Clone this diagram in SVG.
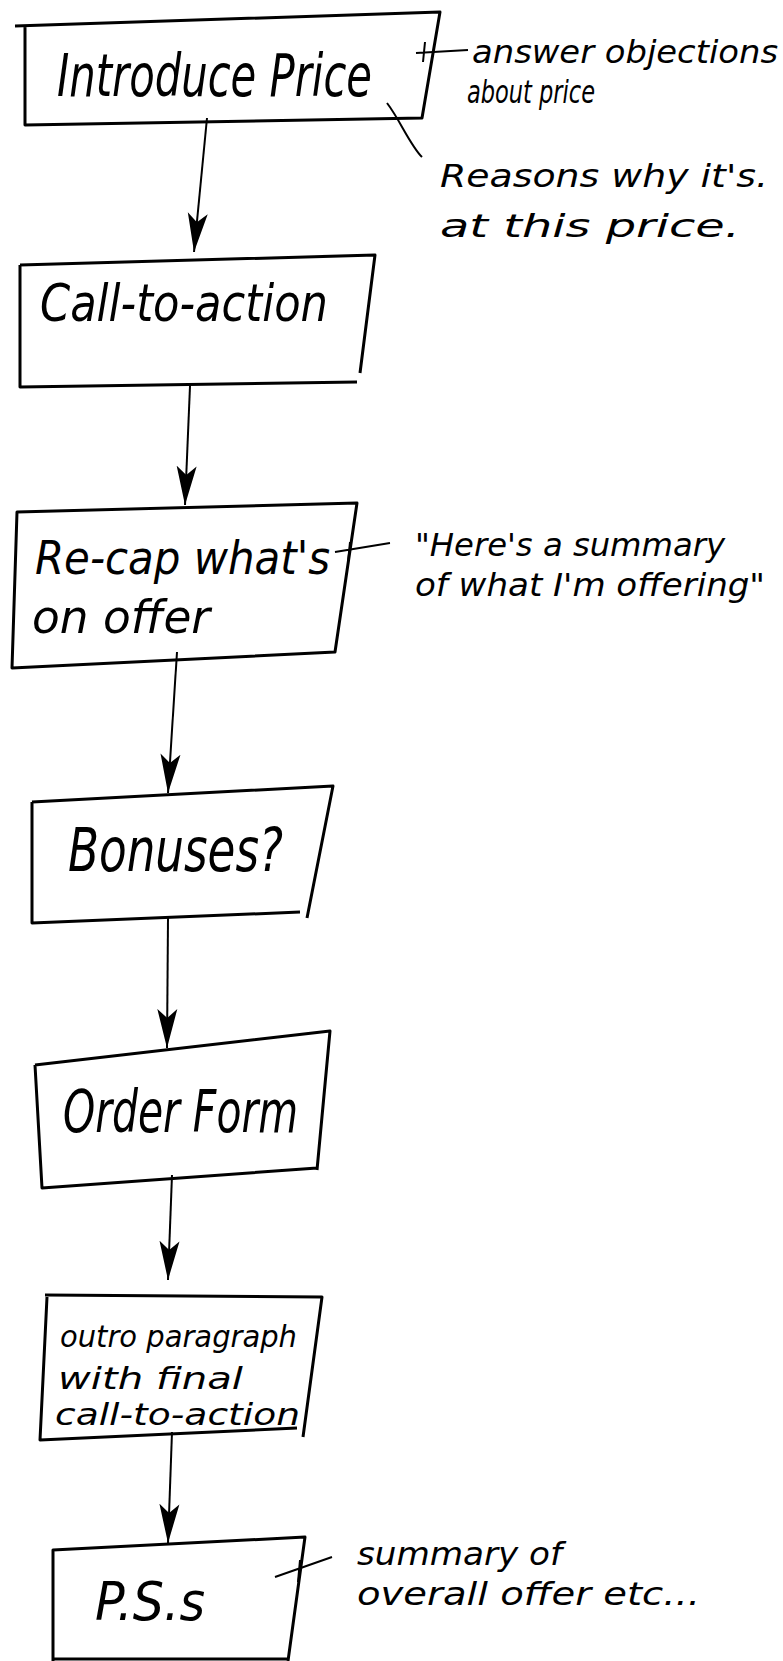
<svg xmlns="http://www.w3.org/2000/svg" width="783" height="1661" viewBox="0 0 783 1661">
<defs>
<style>
.box{fill:none;stroke:#000;stroke-width:3;stroke-linejoin:round}
.edge{fill:none;stroke:#000;stroke-width:2}
.lbl{font-family:"Liberation Sans Narrow","DejaVu Sans Condensed","Liberation Sans",sans-serif;font-style:italic;fill:#000}
.note{font-family:"Liberation Sans Narrow","DejaVu Sans Condensed","Liberation Sans",sans-serif;font-style:italic;fill:#000;font-size:32px}
</style>
<marker id="ah" viewBox="0 -11 40 22" refX="39" refY="0" markerWidth="40" markerHeight="22" markerUnits="userSpaceOnUse" orient="auto">
<path d="M0,-10 L39,0 L0,10 L9,0 Z" fill="#000"/>
</marker>
</defs>
<rect width="783" height="1661" fill="#fff"/>

<g id="connectors">
<path class="edge" d="M207,118 L194,252" marker-end="url(#ah)"/>
<path class="edge" d="M190,386 L185,505" marker-end="url(#ah)"/>
<path class="edge" d="M177,652 L168,793" marker-end="url(#ah)"/>
<path class="edge" d="M168,918 L167,1048" marker-end="url(#ah)"/>
<path class="edge" d="M172,1175 L168,1280" marker-end="url(#ah)"/>
<path class="edge" d="M172,1432 L168,1543" marker-end="url(#ah)"/>
<path class="edge" d="M416,53 L468,50 M425,42 L423,62"/>
<path class="edge" d="M387,103 C400,120 410,145 422,157"/>
<path class="edge" d="M335,552 L390,543 M350,542 L348,562"/>
<path class="edge" d="M275,1577 L332,1557 M300,1560 L298,1582"/>
</g>

<g id="n1">
<path class="box" d="M15,26 L440,12 L422,118 L25,125 L25,27"/>
<text class="lbl" x="57" y="96" font-size="58" textLength="315" lengthAdjust="spacingAndGlyphs">Introduce Price</text>
</g>
<g id="a1">
<text class="note" x="472" y="63" font-size="30" textLength="306" lengthAdjust="spacingAndGlyphs">answer objections</text>
<text class="note" x="467" y="103" font-size="30" textLength="128" lengthAdjust="spacingAndGlyphs">about price</text>
</g>
<g id="a2">
<text class="note" x="440" y="187" textLength="328" lengthAdjust="spacingAndGlyphs">Reasons why it's.</text>
<text class="note" x="440" y="237" textLength="300" lengthAdjust="spacingAndGlyphs">at this price.</text>
</g>

<g id="n2">
<path class="box" d="M20,265 L375,255 L360,373 M357,382 L20,387 L20,265"/>
<text class="lbl" x="40" y="321" font-size="52" textLength="288" lengthAdjust="spacingAndGlyphs">Call-to-action</text>
</g>

<g id="n3">
<path class="box" d="M17,512 L357,503 L335,652 L12,668 Z"/>
<text class="lbl" x="35" y="574" font-size="46" textLength="295" lengthAdjust="spacingAndGlyphs">Re-cap what's</text>
<text class="lbl" x="32" y="633" font-size="46" textLength="178" lengthAdjust="spacingAndGlyphs">on offer</text>
</g>
<g id="a3">
<text class="note" x="415" y="556" textLength="310" lengthAdjust="spacingAndGlyphs">"Here's a summary</text>
<text class="note" x="415" y="596" textLength="350" lengthAdjust="spacingAndGlyphs">of what I'm offering"</text>
</g>

<g id="n4">
<path class="box" d="M32,802 L333,786 L307,918 M300,912 L32,923 L32,802"/>
<text class="lbl" x="68" y="871" font-size="60" textLength="215" lengthAdjust="spacingAndGlyphs">Bonuses?</text>
</g>

<g id="n5">
<path class="box" d="M35,1065 L330,1031 L317,1170 M317,1168 L42,1188 L35,1065"/>
<text class="lbl" x="63" y="1132" font-size="58" textLength="235" lengthAdjust="spacingAndGlyphs">Order Form</text>
</g>

<g id="n6">
<path class="box" d="M45,1295 L322,1297 L303,1437 M297,1428 L40,1440 L47,1297"/>
<text class="lbl" x="60" y="1347" font-size="31" textLength="237" lengthAdjust="spacingAndGlyphs">outro paragraph</text>
<text class="lbl" x="58" y="1389" font-size="31" textLength="185" lengthAdjust="spacingAndGlyphs">with final</text>
<text class="lbl" x="55" y="1425" font-size="31" textLength="245" lengthAdjust="spacingAndGlyphs">call-to-action</text>
</g>

<g id="n7">
<path class="box" d="M53,1661 L53,1550 L305,1537 L288,1661 M53,1659 L288,1659"/>
<text class="lbl" x="95" y="1620" font-size="54" textLength="110" lengthAdjust="spacingAndGlyphs">P.S.s</text>
</g>
<g id="a4">
<text class="note" x="357" y="1565" textLength="205" lengthAdjust="spacingAndGlyphs">summary of</text>
<text class="note" x="357" y="1605" textLength="343" lengthAdjust="spacingAndGlyphs">overall offer etc...</text>
</g>
</svg>
